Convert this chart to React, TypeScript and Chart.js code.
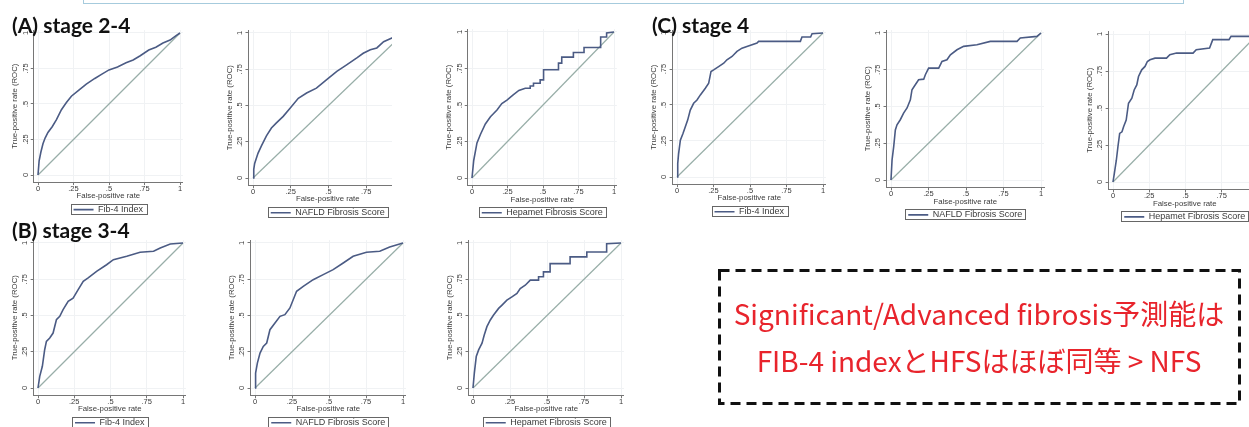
import React, { useEffect, useRef } from 'react';
import { Chart, registerables } from 'chart.js';

Chart.register(...registerables);

// ---------- text ----------
const SERIES_LABELS = ['Fib-4 Index', 'NAFLD Fibrosis Score', 'Hepamet Fibrosis Score'];
const PANEL_TITLES = ['(A) stage 2-4', '(B) stage 3-4', '(C) stage 4'];
const X_TITLE = 'False-positive rate';
const Y_TITLE = 'True-positive rate (ROC)';
const NOTE_LINES = ['Significant/Advanced fibrosis予測能は', 'FIB-4 indexとHFSはほぼ同等 > NFS'];

// ---------- ticks ----------
const TICK_VALUES = [0, 0.25, 0.5, 0.75, 1];
const TICK_LABELS = ['0', '.25', '.5', '.75', '1'];

// ---------- reference (chance) line ----------
const REF_FPR = [0, 1];
const REF_TPR = [0, 1];

// ---------- (A) stage 2-4 ----------
const A_FIB4_FPR = [0, 0.008, 0.02, 0.035, 0.05, 0.07, 0.1, 0.13, 0.165, 0.2, 0.235, 0.29, 0.34, 0.4, 0.45, 0.5, 0.56, 0.62, 0.67, 0.72, 0.78, 0.83, 0.88, 0.93, 0.97, 1];
const A_FIB4_TPR = [0, 0.1, 0.16, 0.22, 0.26, 0.3, 0.34, 0.39, 0.46, 0.51, 0.555, 0.6, 0.64, 0.68, 0.71, 0.74, 0.76, 0.79, 0.81, 0.84, 0.88, 0.9, 0.93, 0.95, 0.98, 1];

const A_NFS_FPR = [0, 0.005, 0.011, 0.033, 0.055, 0.089, 0.122, 0.155, 0.2, 0.244, 0.3, 0.355, 0.42, 0.488, 0.555, 0.62, 0.69, 0.73, 0.777, 0.82, 0.865, 0.92, 0.96, 1];
const A_NFS_TPR = [0, 0.06, 0.1, 0.17, 0.22, 0.29, 0.345, 0.38, 0.425, 0.48, 0.55, 0.586, 0.62, 0.678, 0.735, 0.78, 0.83, 0.86, 0.885, 0.897, 0.94, 0.966, 0.985, 1];

const A_HFS_FPR = [0, 0.012, 0.035, 0.06, 0.094, 0.13, 0.176, 0.21, 0.246, 0.29, 0.33, 0.375, 0.41, 0.41, 0.433, 0.433, 0.48, 0.48, 0.504, 0.504, 0.609, 0.609, 0.632, 0.632, 0.714, 0.714, 0.789, 0.789, 0.906, 0.906, 0.948, 0.948, 1];
const A_HFS_TPR = [0, 0.12, 0.24, 0.3, 0.37, 0.42, 0.466, 0.51, 0.534, 0.57, 0.6, 0.615, 0.615, 0.63, 0.63, 0.649, 0.649, 0.672, 0.672, 0.741, 0.741, 0.787, 0.787, 0.828, 0.828, 0.86, 0.86, 0.894, 0.894, 0.966, 0.966, 0.993, 1];

// ---------- (B) stage 3-4 ----------
const B_FIB4_FPR = [0, 0.012, 0.03, 0.046, 0.058, 0.081, 0.104, 0.127, 0.15, 0.173, 0.208, 0.242, 0.277, 0.312, 0.346, 0.404, 0.473, 0.52, 0.612, 0.704, 0.797, 0.843, 0.912, 1];
const B_FIB4_TPR = [0, 0.08, 0.15, 0.264, 0.322, 0.345, 0.379, 0.471, 0.494, 0.54, 0.598, 0.62, 0.678, 0.736, 0.759, 0.805, 0.85, 0.885, 0.908, 0.936, 0.943, 0.966, 0.993, 1];

const B_NFS_FPR = [0, 0.004, 0.016, 0.034, 0.056, 0.079, 0.101, 0.135, 0.169, 0.202, 0.236, 0.281, 0.326, 0.393, 0.461, 0.528, 0.596, 0.663, 0.753, 0.843, 0.91, 1];
const B_NFS_TPR = [0, 0.103, 0.172, 0.241, 0.287, 0.31, 0.402, 0.448, 0.494, 0.506, 0.552, 0.667, 0.701, 0.747, 0.782, 0.816, 0.862, 0.908, 0.936, 0.943, 0.972, 1];

const B_HFS_FPR = [0, 0.009, 0.022, 0.038, 0.061, 0.076, 0.094, 0.117, 0.139, 0.173, 0.196, 0.229, 0.263, 0.297, 0.319, 0.353, 0.387, 0.443, 0.443, 0.476, 0.476, 0.521, 0.521, 0.656, 0.656, 0.769, 0.769, 0.903, 0.903, 1];
const B_HFS_TPR = [0, 0.103, 0.217, 0.263, 0.309, 0.366, 0.423, 0.469, 0.503, 0.549, 0.572, 0.606, 0.629, 0.652, 0.686, 0.709, 0.744, 0.744, 0.767, 0.767, 0.801, 0.801, 0.858, 0.858, 0.904, 0.904, 0.938, 0.938, 0.995, 1];

// ---------- (C) stage 4 ----------
const C_FIB4_FPR = [0, 0.005, 0.011, 0.023, 0.041, 0.057, 0.073, 0.091, 0.114, 0.137, 0.16, 0.194, 0.217, 0.233, 0.251, 0.285, 0.32, 0.342, 0.377, 0.411, 0.445, 0.479, 0.548, 0.559, 0.845, 0.856, 0.915, 0.925, 1];
const C_FIB4_TPR = [0, 0.093, 0.163, 0.256, 0.302, 0.349, 0.395, 0.465, 0.512, 0.535, 0.57, 0.616, 0.651, 0.733, 0.744, 0.767, 0.79, 0.814, 0.837, 0.872, 0.895, 0.907, 0.93, 0.942, 0.942, 0.972, 0.972, 0.995, 1];

const C_NFS_FPR = [0, 0.007, 0.018, 0.029, 0.04, 0.062, 0.084, 0.107, 0.129, 0.14, 0.162, 0.184, 0.218, 0.229, 0.251, 0.318, 0.34, 0.373, 0.396, 0.44, 0.484, 0.573, 0.662, 0.84, 0.862, 0.973, 1];
const C_NFS_TPR = [0, 0.136, 0.227, 0.34, 0.375, 0.41, 0.455, 0.49, 0.545, 0.614, 0.648, 0.682, 0.686, 0.716, 0.761, 0.761, 0.807, 0.818, 0.852, 0.886, 0.909, 0.92, 0.943, 0.943, 0.966, 0.977, 1];

const C_HFS_FPR = [0, 0.009, 0.023, 0.034, 0.046, 0.062, 0.073, 0.091, 0.107, 0.13, 0.146, 0.164, 0.176, 0.198, 0.221, 0.237, 0.255, 0.29, 0.369, 0.392, 0.438, 0.552, 0.574, 0.666, 0.688, 0.8, 0.814, 0.97, 1];
const C_HFS_TPR = [0, 0.057, 0.147, 0.238, 0.328, 0.339, 0.373, 0.419, 0.532, 0.566, 0.622, 0.656, 0.713, 0.758, 0.781, 0.814, 0.826, 0.837, 0.837, 0.86, 0.871, 0.871, 0.894, 0.905, 0.962, 0.962, 0.984, 0.984, 1];

// ---------- styling ----------
const FONT = "'Liberation Sans', Arial, sans-serif";
const CURVE_COLOR = '#4b5b84';
const DIAG_COLOR = '#98aea8';
const AXIS_COLOR = '#767676';
const GRID_COLOR = '#f0f2f4';
const TEXT_COLOR = '#3a3a3a';

const X_MIN = -0.03;
const X_MAX = 1.02;
const Y_MIN = -0.05;
const Y_MAX = 1.02;

const YW = 24; // y-axis band width
const PT = 5;
const PR = 6;
const XH = 20; // x-axis band height
const LEGEND_H = 22; // 9px font + 3 padding + 10

type Box = { x0: number; x1: number; y0: number; y1: number };

// page pixel positions of data 0 and 1 on each panel's axes
const LAYOUT: Record<string, Box> = {
  A1: { x0: 38, x1: 180, y0: 175, y1: 33 },
  A2: { x0: 253, x1: 404, y0: 178, y1: 33 },
  A3: { x0: 472, x1: 614, y0: 178, y1: 32 },
  C1: { x0: 677, x1: 823, y0: 177, y1: 33 },
  C2: { x0: 891, x1: 1041, y0: 180, y1: 33 },
  C3: { x0: 1113, x1: 1258, y0: 182, y1: 34 },
  B1: { x0: 38, x1: 183, y0: 388, y1: 243 },
  B2: { x0: 255, x1: 403, y0: 388, y1: 243 },
  B3: { x0: 473, x1: 621, y0: 388, y1: 243 },
};

function geometry(b: Box) {
  const sx = b.x1 - b.x0;
  const sy = b.y0 - b.y1;
  const cl = b.x0 + X_MIN * sx;
  const cr = b.x0 + X_MAX * sx;
  const ct = b.y1 - (Y_MAX - 1) * sy;
  const cb = b.y0 - Y_MIN * sy;
  const left = Math.floor(cl - YW);
  const top = Math.floor(ct - PT);
  const width = Math.ceil(cr + PR - left);
  const height = Math.ceil(cb + XH + LEGEND_H - top);
  const pad = {
    left: cl - YW - left,
    top: ct - top,
    right: left + width - cr,
    bottom: top + height - cb - XH - LEGEND_H,
  };
  return { left, top, width, height, pad };
}

const legendBoxPlugin = {
  id: 'legendBox',
  afterDraw(chart: any) {
    const lg = chart.legend;
    if (!lg || !lg.legendHitBoxes || !lg.legendHitBoxes.length) return;
    const hb = lg.legendHitBoxes[0];
    const ctx = chart.ctx;
    ctx.save();
    ctx.strokeStyle = '#666';
    ctx.lineWidth = 1;
    ctx.strokeRect(Math.round(hb.left - 3) + 0.5, Math.round(hb.top - 1) + 0.5, Math.round(hb.width + 6), 10);
    ctx.restore();
  },
};

function tickLabel(v: number) {
  const i = TICK_VALUES.indexOf(Number(v));
  return i >= 0 ? TICK_LABELS[i] : '';
}

type PanelProps = { box: Box; fpr: number[]; tpr: number[]; label: string; clipRight?: number };

function RocPanel({ box, fpr, tpr, label, clipRight }: PanelProps) {
  const ref = useRef<HTMLCanvasElement>(null);
  const g = geometry(box);

  useEffect(() => {
    if (!ref.current) return;
    const chart = new Chart(ref.current, {
      type: 'scatter',
      data: {
        datasets: [
          {
            label,
            data: fpr.map((x, i) => ({ x, y: tpr[i] })),
            showLine: true,
            borderColor: CURVE_COLOR,
            backgroundColor: CURVE_COLOR,
            borderWidth: 1.6,
            pointRadius: 0,
            tension: 0,
          },
          {
            label: 'Reference',
            data: REF_FPR.map((x, i) => ({ x, y: REF_TPR[i] })),
            showLine: true,
            borderColor: DIAG_COLOR,
            backgroundColor: DIAG_COLOR,
            borderWidth: 1.2,
            pointRadius: 0,
          },
        ],
      },
      options: {
        responsive: false,
        animation: false,
        events: [],
        layout: { padding: g.pad },
        plugins: {
          legend: {
            position: 'bottom',
            fullSize: false,
            labels: {
              filter: (it: any) => it.datasetIndex === 0,
              usePointStyle: true,
              pointStyle: 'line',
              pointStyleWidth: 20,
              padding: 3,
              color: TEXT_COLOR,
              font: { family: FONT, size: 9 },
            },
          },
          tooltip: { enabled: false },
        },
        scales: {
          x: {
            type: 'linear',
            min: X_MIN,
            max: X_MAX,
            afterFit: (s: any) => {
              s.height = XH;
            },
            afterBuildTicks: (s: any) => {
              s.ticks = TICK_VALUES.map((value) => ({ value }));
            },
            ticks: {
              callback: (v: any) => tickLabel(v),
              padding: 0,
              autoSkip: false,
              maxRotation: 0,
              minRotation: 0,
              color: TEXT_COLOR,
              font: { family: FONT, size: 7.5, lineHeight: 1 },
            },
            grid: { color: GRID_COLOR, tickColor: AXIS_COLOR, tickLength: 3 },
            border: { color: AXIS_COLOR, width: 1 },
            title: {
              display: true,
              text: X_TITLE,
              color: TEXT_COLOR,
              font: { family: FONT, size: 7.8, lineHeight: 1 },
              padding: { top: 0, bottom: 2 },
            },
          },
          y: {
            type: 'linear',
            min: Y_MIN,
            max: Y_MAX,
            afterFit: (s: any) => {
              s.width = YW;
            },
            afterBuildTicks: (s: any) => {
              s.ticks = TICK_VALUES.map((value) => ({ value }));
            },
            ticks: {
              callback: (v: any) => tickLabel(v),
              padding: 0,
              autoSkip: false,
              minRotation: 90,
              maxRotation: 90,
              crossAlign: 'center',
              color: TEXT_COLOR,
              font: { family: FONT, size: 7.5, lineHeight: 1 },
            },
            grid: { color: GRID_COLOR, tickColor: AXIS_COLOR, tickLength: 3 },
            border: { color: AXIS_COLOR, width: 1 },
            title: {
              display: true,
              text: Y_TITLE,
              color: TEXT_COLOR,
              font: { family: FONT, size: 7.8, lineHeight: 1 },
              padding: { top: 1, bottom: 0 },
            },
          },
        },
      } as any,
      plugins: [legendBoxPlugin],
    } as any);
    return () => chart.destroy();
  }, []);

  const visibleW = clipRight ? Math.min(g.width, clipRight - g.left) : g.width;
  return (
    <div style={{ position: 'absolute', left: g.left, top: g.top, width: visibleW, height: g.height, overflow: 'hidden' }}>
      <canvas ref={ref} width={g.width} height={g.height} style={{ display: 'block', width: g.width, height: g.height }} />
    </div>
  );
}

const PANELS: (PanelProps & { key: string })[] = [
  { key: 'A1', box: LAYOUT.A1, fpr: A_FIB4_FPR, tpr: A_FIB4_TPR, label: SERIES_LABELS[0] },
  { key: 'A2', box: LAYOUT.A2, fpr: A_NFS_FPR, tpr: A_NFS_TPR, label: SERIES_LABELS[1], clipRight: 392 },
  { key: 'A3', box: LAYOUT.A3, fpr: A_HFS_FPR, tpr: A_HFS_TPR, label: SERIES_LABELS[2] },
  { key: 'C1', box: LAYOUT.C1, fpr: C_FIB4_FPR, tpr: C_FIB4_TPR, label: SERIES_LABELS[0] },
  { key: 'C2', box: LAYOUT.C2, fpr: C_NFS_FPR, tpr: C_NFS_TPR, label: SERIES_LABELS[1] },
  { key: 'C3', box: LAYOUT.C3, fpr: C_HFS_FPR, tpr: C_HFS_TPR, label: SERIES_LABELS[2] },
  { key: 'B1', box: LAYOUT.B1, fpr: B_FIB4_FPR, tpr: B_FIB4_TPR, label: SERIES_LABELS[0] },
  { key: 'B2', box: LAYOUT.B2, fpr: B_NFS_FPR, tpr: B_NFS_TPR, label: SERIES_LABELS[1] },
  { key: 'B3', box: LAYOUT.B3, fpr: B_HFS_FPR, tpr: B_HFS_TPR, label: SERIES_LABELS[2] },
];

const titleStyle: React.CSSProperties = {
  position: 'absolute',
  fontFamily: "Lato, 'Open Sans', sans-serif",
  fontWeight: 700,
  fontSize: 21,
  lineHeight: '21px',
  color: '#111',
  whiteSpace: 'nowrap',
};

const noteStyle: React.CSSProperties = {
  position: 'absolute',
  left: 718,
  width: 522,
  textAlign: 'center',
  fontFamily: "'Noto Sans CJK JP', sans-serif",
  fontSize: 28,
  lineHeight: '40px',
  color: '#e8242c',
  whiteSpace: 'nowrap',
};

export default function App() {
  return (
    <div
      style={{
        position: 'fixed',
        left: 0,
        top: 0,
        width: 1249,
        height: 427,
        overflow: 'hidden',
        background: '#ffffff',
      }}
    >
      <div style={{ position: 'absolute', left: 83, top: -10, width: 1099, height: 12, border: '1px solid #a6cbdd' }} />
      {PANELS.map((p) => (
        <RocPanel key={p.key} box={p.box} fpr={p.fpr} tpr={p.tpr} label={p.label} clipRight={p.clipRight} />
      ))}
      <div style={{ ...titleStyle, left: 12, top: 14 }}>{PANEL_TITLES[0]}</div>
      <div style={{ ...titleStyle, left: 12, top: 219 }}>{PANEL_TITLES[1]}</div>
      <div style={{ ...titleStyle, left: 652, top: 14 }}>{PANEL_TITLES[2]}</div>
      <svg width={1249} height={427} style={{ position: 'absolute', left: 0, top: 0, pointerEvents: 'none' }}>
        <rect x={719.5} y={270.5} width={520} height={133} fill="none" stroke="#111" strokeWidth={3} strokeDasharray="10 6" />
      </svg>
      <div style={{ ...noteStyle, top: 293 }}>{NOTE_LINES[0]}</div>
      <div style={{ ...noteStyle, top: 340 }}>{NOTE_LINES[1]}</div>
    </div>
  );
}
